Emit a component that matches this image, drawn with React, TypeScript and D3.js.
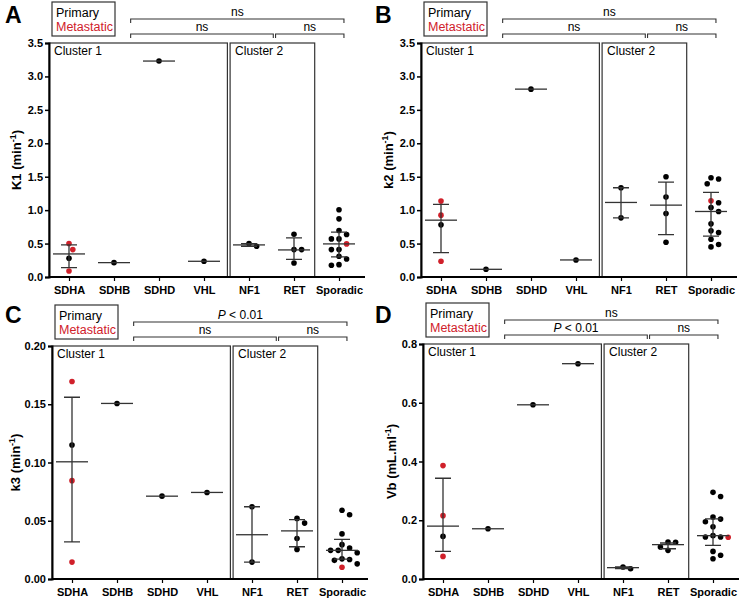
import * as d3 from "d3";
import React, { useRef, useEffect } from "react";

const categories = ["SDHA", "SDHB", "SDHD", "VHL", "NF1", "RET", "Sporadic"];

// K1 (min-1)
const k1Primary = [[0.28], [0.215], [3.23], [0.235], [0.46, 0.5], [0.64, 0.41, 0.41, 0.21],
  [1.005, 0.87, 0.695, 0.635, 0.57, 0.57, 0.41, 0.41, 0.31, 0.27, 0.185, 0.175]];
const k1Metastatic = [[0.41, 0.5, 0.09], [], [], [], [], [], [0.495]];
const k1Median = [0.345, 0.215, 3.23, 0.235, 0.48, 0.405, 0.495];
const k1Low = [0.14, null, null, null, 0.46, 0.265, 0.3];
const k1High = [0.48, null, null, null, 0.5, 0.585, 0.67];
const k1Ticks = [0, 0.5, 1, 1.5, 2, 2.5, 3, 3.5];
const k1Sig = ["ns", "ns", "ns"];

// k2 (min-1)
const k2Primary = [[0.78], [0.115], [2.81], [0.255], [1.335, 0.885], [1.5, 1.195, 0.95, 0.52],
  [1.465, 1.395, 1.485, 1.11, 1.04, 0.98, 0.795, 0.69, 0.665, 0.565, 0.45, 0.485]];
const k2Metastatic = [[1.135, 0.925, 0.235], [], [], [], [], [], [1.14]];
const k2Median = [0.85, 0.115, 2.81, 0.255, 1.115, 1.075, 0.98];
const k2Low = [0.365, null, null, null, 0.885, 0.635, 0.61];
const k2High = [1.085, null, null, null, 1.335, 1.42, 1.265];
const k2Ticks = [0, 0.5, 1, 1.5, 2, 2.5, 3, 3.5];
const k2Sig = ["ns", "ns", "ns"];

// k3 (min-1)
const k3Primary = [[0.115], [0.1507], [0.0711], [0.0743], [0.062, 0.0145], [0.048, 0.052, 0.0347, 0.0254],
  [0.059, 0.0552, 0.0387, 0.0295, 0.0266, 0.0246, 0.0246, 0.0225, 0.0173, 0.0168, 0.013, 0.016]];
const k3Metastatic = [[0.1695, 0.0844, 0.0145], [], [], [], [], [], [0.0101]];
const k3Median = [0.1006, 0.1507, 0.0711, 0.0743, 0.038, 0.0413, 0.0246];
const k3Low = [0.0318, null, null, null, 0.0145, 0.0277, 0.017];
const k3High = [0.156, null, null, null, 0.062, 0.051, 0.034];
const k3Ticks = [0, 0.05, 0.1, 0.15, 0.2];
const k3Sig = ["P < 0.01", "ns", "ns"];

// Vb (mL.ml-1)
const vbPrimary = [[0.145], [0.171], [0.593], [0.733], [0.035, 0.041], [0.125, 0.126, 0.0976, 0.109],
  [0.281, 0.295, 0.204, 0.211, 0.195, 0.178, 0.1475, 0.143, 0.143, 0.094, 0.0806, 0.069]];
const vbMetastatic = [[0.386, 0.2156, 0.077], [], [], [], [], [], [0.142]];
const vbMedian = [0.18, 0.171, 0.593, 0.733, 0.0386, 0.117, 0.1475];
const vbLow = [0.094, null, null, null, 0.035, 0.103, 0.1146];
const vbHigh = [0.343, null, null, null, 0.041, 0.1226, 0.205];
const vbTicks = [0, 0.2, 0.4, 0.6, 0.8];
const vbSig = ["ns", "P < 0.01", "ns"];

const RED = "#d0202a";
const FONT = "'Liberation Sans', Arial, sans-serif";

const panels = [
  { letter: "A", label: "K1 (min", unit: "-1", primary: k1Primary, metastatic: k1Metastatic, median: k1Median, low: k1Low, high: k1High, ticks: k1Ticks, fmt: ".1f", sig: k1Sig,
    ox: 0, oy: 0, x0: 49, top: 43, bottom: 277, labelX: 21 },
  { letter: "B", label: "k2 (min", unit: "-1", primary: k2Primary, metastatic: k2Metastatic, median: k2Median, low: k2Low, high: k2High, ticks: k2Ticks, fmt: ".1f", sig: k2Sig,
    ox: 370, oy: 0, x0: 421, top: 43, bottom: 277, labelX: 393 },
  { letter: "C", label: "k3 (min", unit: "-1", primary: k3Primary, metastatic: k3Metastatic, median: k3Median, low: k3Low, high: k3High, ticks: k3Ticks, fmt: ".2f", sig: k3Sig,
    ox: 0, oy: 300, x0: 52, top: 346, bottom: 579, labelX: 20 },
  { letter: "D", label: "Vb (mL.ml", unit: "-1", primary: vbPrimary, metastatic: vbMetastatic, median: vbMedian, low: vbLow, high: vbHigh, ticks: vbTicks, fmt: ".1f", sig: vbSig,
    ox: 370, oy: 300, x0: 423, top: 344, bottom: 579, labelX: 396 },
];

// simple beeswarm: spread points horizontally when they would overlap
const swarm = (values: number[], cy: (v: number) => number, minDist: number, step: number) => {
  const placed: { dx: number; y: number }[] = [];
  return values.map((v) => {
    const py = cy(v);
    let dx = 0;
    for (let k = 0; k < 30; k++) {
      const cand = k === 0 ? 0 : (k % 2 ? 1 : -1) * Math.ceil(k / 2) * step;
      const ok = placed.every((p) => Math.hypot(p.dx - cand, p.y - py) >= minDist);
      if (ok) { dx = cand; break; }
    }
    placed.push({ dx, y: py });
    return dx;
  });
};

const drawPanel = (svg: any, p: any) => {
  const g = svg.append("g");
  const x = d3.scalePoint().domain(categories).range([p.x0 + 20, p.x0 + 290]);
  const xi = d3.scaleLinear().domain([0, categories.length - 1]).range([x(categories[0]), x(categories[categories.length - 1])]);
  const yMax = p.ticks[p.ticks.length - 1];
  const y = d3.scaleLinear().domain([0, yMax]).range([p.bottom, p.top]);

  // panel letter
  g.append("text").attr("x", p.ox + 5).attr("y", p.oy + 23)
    .style("font", `bold 23px ${FONT}`).text(p.letter);

  // legend
  g.append("rect").attr("x", p.x0 + 3).attr("y", p.top - 41).attr("width", 63).attr("height", 34)
    .attr("fill", "none").attr("stroke", "#333").attr("stroke-width", 1.2);
  g.append("text").attr("x", p.x0 + 7).attr("y", p.top - 26).style("font", `12.5px ${FONT}`).text("Primary");
  g.append("text").attr("x", p.x0 + 7).attr("y", p.top - 12.5).style("font", `12.5px ${FONT}`).attr("fill", RED).text("Metastatic");

  // cluster boxes
  const clusters = [
    { name: "Cluster 1", from: p.x0, to: xi(3.52) },
    { name: "Cluster 2", from: xi(3.58), to: xi(5.46) },
  ];
  clusters.forEach((c) => {
    g.append("rect").attr("x", c.from).attr("y", y(yMax)).attr("width", c.to - c.from).attr("height", y(0) - y(yMax))
      .attr("fill", "none").attr("stroke", "#333").attr("stroke-width", 1.2);
    g.append("text").attr("x", c.from + 5).attr("y", y(yMax) + 12).style("font", `12px ${FONT}`).text(c.name);
  });

  // significance brackets
  const brackets = [
    { a: 1.37, b: 6.11, level: 24, label: p.sig[0] },
    { a: 1.37, b: 4.54, level: 9, label: p.sig[1] },
    { a: 4.59, b: 6.11, level: 9, label: p.sig[2] },
  ];
  brackets.forEach((br) => {
    const by = p.top - br.level;
    g.append("path").attr("d", `M${xi(br.a)},${by + 4}V${by}H${xi(br.b)}V${by + 4}`)
      .attr("fill", "none").attr("stroke", "#333").attr("stroke-width", 1.1);
    const t = g.append("text").attr("x", (xi(br.a) + xi(br.b)) / 2).attr("y", by - 3)
      .attr("text-anchor", "middle").style("font", `12px ${FONT}`);
    if (br.label.startsWith("P")) {
      t.append("tspan").style("font-style", "italic").text("P");
      t.append("tspan").text(br.label.slice(1));
    } else t.text(br.label);
  });

  // y axis
  const yAxis = g.append("g").attr("transform", `translate(${p.x0},0)`)
    .call(d3.axisLeft(y).tickValues(p.ticks).tickFormat(d3.format(p.fmt)).tickSize(4).tickPadding(2));
  yAxis.select(".domain").attr("stroke-width", 2);
  yAxis.selectAll(".tick line").attr("stroke-width", 1.5);
  yAxis.selectAll("text").style("font", `bold 11px ${FONT}`).attr("fill", "#000");

  // x axis
  const xAxis = g.append("g").attr("transform", `translate(0,${p.bottom})`)
    .call(d3.axisBottom(x).tickSize(4).tickPadding(5));
  xAxis.select(".domain").attr("d", `M${p.x0},0H${p.x0 + 316}`).attr("stroke-width", 2);
  xAxis.selectAll(".tick line").attr("stroke-width", 1.2);
  xAxis.selectAll("text").style("font", `bold 11px ${FONT}`).attr("fill", "#000");

  // y label
  const lab = g.append("text")
    .attr("transform", `translate(${p.labelX},${(p.top + p.bottom) / 2}) rotate(-90)`)
    .attr("text-anchor", "middle").style("font", `bold 13px ${FONT}`);
  lab.append("tspan").text(p.label);
  lab.append("tspan").attr("dy", -5).style("font-size", "9px").text(p.unit);
  lab.append("tspan").attr("dy", 5).text(")");

  // dots
  categories.forEach((cat, i) => {
    const pts = [
      ...p.primary[i].map((v: number) => ({ v, met: false })),
      ...p.metastatic[i].map((v: number) => ({ v, met: true })),
    ].sort((a, b) => b.v - a.v);
    const offsets = swarm(pts.map((d) => d.v), y, 6.6, 3.8);
    g.selectAll(null).data(pts).enter().append("circle")
      .attr("cx", (d: any, k: number) => x(cat) + offsets[k])
      .attr("cy", (d: any) => y(d.v))
      .attr("r", 2.8)
      .attr("fill", (d: any) => (d.met ? RED : "#000"));
  });

  // median with interquartile range
  categories.forEach((cat, i) => {
    const cx = x(cat);
    const lo = p.low[i];
    const hi = p.high[i];
    if (lo !== null && hi !== null) {
      g.append("path")
        .attr("d", `M${cx},${y(lo)}V${y(hi)}M${cx - 8},${y(lo)}H${cx + 8}M${cx - 8},${y(hi)}H${cx + 8}`)
        .attr("fill", "none").attr("stroke", "#333").attr("stroke-width", 1.3);
    }
    g.append("line").attr("x1", cx - 16).attr("x2", cx + 16)
      .attr("y1", y(p.median[i])).attr("y2", y(p.median[i]))
      .attr("stroke", "#333").attr("stroke-width", 1.3);
  });
};

const App = () => {
  const svgRef = useRef(null);

  useEffect(() => {
    const svg = d3.select(svgRef.current);
    svg.selectAll("*").remove();
    svg.append("rect").attr("width", 740).attr("height", 600).attr("fill", "#fff");
    panels.forEach((p) => drawPanel(svg, p));
  }, []);

  return (
    <svg ref={svgRef} width={740} height={600}
      style={{ position: "absolute", left: 0, top: 0, fontFamily: FONT }}></svg>
  );
};

export default App;
